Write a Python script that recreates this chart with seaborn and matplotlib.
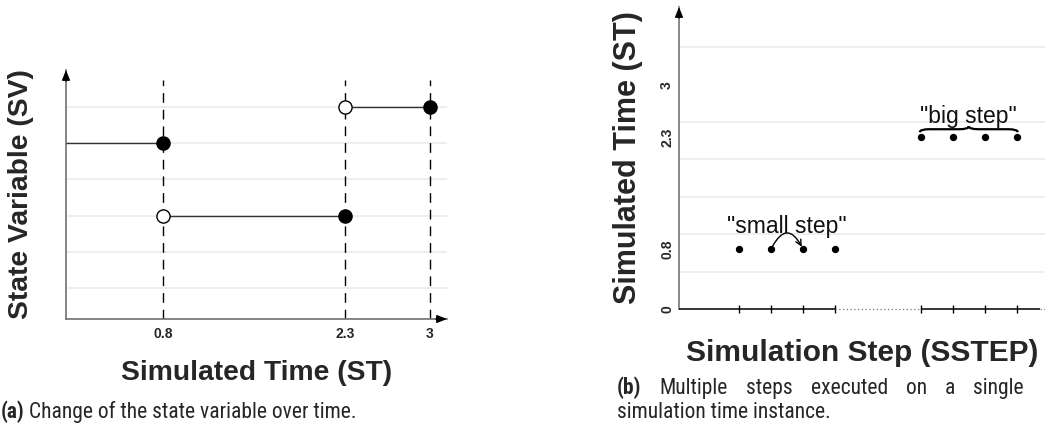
import numpy as np
import pandas as pd
import matplotlib
matplotlib.use("Agg")
import matplotlib.pyplot as plt
from matplotlib.path import Path
from matplotlib.patches import PathPatch
from matplotlib.ticker import FixedLocator
from matplotlib import font_manager as fm
import seaborn as sns

# ---------------- data: panel (a) ----------------
event_times = [0.8, 2.3, 3.0]
event_labels = ["0.8", "2.3", "3"]
seg_start = [0.0, 0.8, 2.3]
seg_end = [0.8, 2.3, 3.0]
seg_value = [5, 3, 6]
closed_t = [0.8, 2.3, 3.0]
closed_v = [5, 3, 6]
open_t = [0.8, 2.3]
open_v = [3, 6]
sv_grid = [1, 2, 3, 4, 5, 6]

# ---------------- data: panel (b) ----------------
small_steps = [1, 2, 3, 4]
small_time = [0.8, 0.8, 0.8, 0.8]
big_steps = [6.68, 7.68, 8.68, 9.68]
big_time = [2.3, 2.3, 2.3, 2.3]
st_ticks = [0, 0.8, 2.3, 3]
st_labels = ["0", "0.8", "2.3", "3"]
st_grid = [0.5, 1.0, 1.5, 2.0, 2.5, 3.0, 3.5]

sns.set_theme(style="whitegrid")
plt.rcParams["font.family"] = ["Liberation Sans", "DejaVu Sans"]

W, H = 1045, 438
fig = plt.figure(figsize=(W / 100, H / 100), dpi=100)


def px_axes(l, t, r, b):
    return [l / W, 1 - b / H, (r - l) / W, (b - t) / H]


ax1 = fig.add_axes(px_axes(66, 70, 447, 319))
ax2 = fig.add_axes(px_axes(679, 7, 1100, 309))

GRID = "#ebebeb"
ARROW = dict(arrowstyle="-|>,head_length=0.5,head_width=0.2", color="black",
             lw=1, mutation_scale=12, shrinkA=0, shrinkB=0)

# ================= panel (a) =================
ax1.set_xlim(0, 3.14)
ax1.set_ylim(0.144, 7.02)
ax1.set_facecolor("white")
for s in ["top", "right"]:
    ax1.spines[s].set_visible(False)
for s in ["left", "bottom"]:
    ax1.spines[s].set_color("#707070")
    ax1.spines[s].set_linewidth(1.2)
ax1.set_yticks(sv_grid)
ax1.set_yticklabels([])
ax1.set_xticks(event_times)
ax1.set_xticklabels(event_labels, fontsize=10, fontweight="bold")
ax1.tick_params(axis="both", length=0)
ax1.tick_params(axis="x", pad=5.5)
ax1.grid(axis="x", visible=False)
ax1.grid(axis="y", color=GRID, lw=1.2)

ax1.vlines(event_times, 0.144, 6.75, colors="black", lw=1,
           linestyles=(0, (7, 5)), zorder=2)
ax1.hlines(seg_value, seg_start, seg_end, colors="#333333", lw=1, zorder=3)
sns.scatterplot(x=closed_t, y=closed_v, ax=ax1, color="black", s=90,
                edgecolor="black", linewidth=1, zorder=5, clip_on=False)
sns.scatterplot(x=open_t, y=open_v, ax=ax1, color="white", s=90,
                edgecolor="black", linewidth=1, zorder=5, clip_on=False)

ax1.annotate("", xy=(0, 1), xycoords="axes fraction", xytext=(0, -8),
             textcoords="offset points", arrowprops=ARROW)
ax1.annotate("", xy=(1, 0), xycoords="axes fraction", xytext=(-8, 0),
             textcoords="offset points", arrowprops=ARROW)

ax1.set_ylabel("State Variable (SV)", fontsize=20.3, fontweight="bold",
               va="center")
ax1.yaxis.set_label_coords(-0.118, 0.5)
ax1.set_xlabel("Simulated Time (ST)", fontsize=20.3, fontweight="bold",
               va="center")
ax1.xaxis.set_label_coords(0.5, -0.215)

# ================= panel (b) =================
ax2.set_xlim(-0.875, 12.28)
ax2.set_ylim(0.066, 4.04)
ax2.set_facecolor("white")
for s in ["top", "right", "bottom"]:
    ax2.spines[s].set_visible(False)
ax2.spines["left"].set_color("#808080")
ax2.spines["left"].set_linewidth(1.3)

ax2.set_yticks(st_ticks)
ax2.set_yticklabels(st_labels, fontsize=10, fontweight="bold", rotation=90,
                    va="center")
ax2.yaxis.set_minor_locator(FixedLocator(st_grid))
ax2.tick_params(axis="y", which="both", length=0, pad=3.5)
ax2.grid(axis="y", which="major", visible=False)
ax2.grid(axis="y", which="minor", color=GRID, lw=1.2)
ax2.grid(axis="x", visible=False)

ax2.set_xticks(small_steps + big_steps)
ax2.set_xticklabels([])
ax2.tick_params(axis="x", which="major", length=6, width=1, color="black",
                direction="inout", bottom=True)

x_lo = ax2.get_xlim()[0]
x_hi = ax2.get_xlim()[1]
y0 = ax2.get_ylim()[0]
axis_end = big_steps[-1] + 0.72
ax2.plot([x_lo, small_steps[-1]], [y0, y0], color="black", lw=1.1,
         clip_on=False, zorder=3, solid_capstyle="butt")
ax2.plot([small_steps[-1], big_steps[0]], [y0, y0], color="#777777", lw=0.9,
         ls=(0, (1, 2)), clip_on=False, zorder=3)
ax2.plot([big_steps[0], axis_end], [y0, y0], color="black", lw=1.1,
         clip_on=False, zorder=3, solid_capstyle="butt")
ax2.plot([axis_end, x_hi], [y0, y0], color="#777777", lw=0.9,
         ls=(0, (1, 2)), clip_on=False, zorder=3)

sns.scatterplot(x=small_steps, y=small_time, ax=ax2, color="black", s=28,
                linewidth=0, zorder=5)
sns.scatterplot(x=big_steps, y=big_time, ax=ax2, color="black", s=28,
                linewidth=0, zorder=5)

ax2.annotate("", xy=(0, 1), xycoords="axes fraction", xytext=(0, -8),
             textcoords="offset points", arrowprops=ARROW)

# small-step arc arrow
ax2.annotate("", xy=(small_steps[2], small_time[2]),
             xytext=(small_steps[1], small_time[1]),
             arrowprops=dict(arrowstyle="->,head_length=0.4,head_width=0.2",
                             color="black", lw=1, mutation_scale=10,
                             connectionstyle="arc3,rad=-1.0",
                             shrinkA=2, shrinkB=2))
ax2.text(np.mean(small_steps), small_time[0] + 0.30, '"small step"',
         ha="center", va="center", fontsize=16.5, color="#111111")

# curly brace over big steps
bx0 = big_steps[0] - 0.03
bx1 = big_steps[-1] + 0.03
bxm = (bx0 + bx1) / 2
by = big_time[0]
t_, h_, p_ = by + 0.065, by + 0.105, by + 0.145
r_ = 0.3
verts = [(bx0, t_), (bx0, h_), (bx0 + r_, h_),
         (bxm - r_, h_),
         (bxm, h_), (bxm, p_),
         (bxm, h_), (bxm + r_, h_),
         (bx1 - r_, h_),
         (bx1, h_), (bx1, t_)]
codes = [Path.MOVETO, Path.CURVE3, Path.CURVE3,
         Path.LINETO,
         Path.CURVE3, Path.CURVE3,
         Path.CURVE3, Path.CURVE3,
         Path.LINETO,
         Path.CURVE3, Path.CURVE3]
ax2.add_patch(PathPatch(Path(verts, codes), fill=False, lw=1.6,
                        edgecolor="black", zorder=4))
ax2.text(np.mean(big_steps), big_time[0] + 0.27, '"big step"',
         ha="center", va="center", fontsize=16.5, color="#111111")

ax2.set_ylabel("Simulated Time (ST)", fontsize=22, fontweight="bold",
               va="center")
ax2.yaxis.set_label_coords(-0.121, 0.5)
ax2.set_xlabel("Simulation Step (SSTEP)", fontsize=21.5, fontweight="bold",
               va="center")
ax2.xaxis.set_label_coords(0.435, -0.145)

# ================= captions =================
available = {f.name for f in fm.fontManager.ttflist}
cap_pref = ["Roboto Condensed", "Liberation Sans Narrow", "Open Sans Condensed",
            "DejaVu Sans Condensed"]
cap_found = [f for f in cap_pref if f in available]
if cap_found:
    CAP_FAMILY = [cap_found[0], "Liberation Sans"]
    CAP_SIZE = 15.5
else:
    CAP_FAMILY = ["Liberation Sans"]
    CAP_SIZE = 14.6


def caption(x_px, base_px, bold_part, rest):
    t = fig.text(x_px / W, 1 - base_px / H, bold_part, fontsize=CAP_SIZE,
                 fontweight="bold", family=CAP_FAMILY, va="baseline",
                 ha="left")
    fig.canvas.draw()
    bb = t.get_window_extent()
    fig.text((bb.x1 + 4) / W, 1 - base_px / H, rest, fontsize=CAP_SIZE,
             family=CAP_FAMILY, va="baseline", ha="left")


def justified_caption(x_px, x_end_px, base_px, bold_part, rest):
    """First line of a justified (LaTeX-like) caption: stretch word gaps."""
    words = [(bold_part, "bold")] + [(w, "normal") for w in rest.split()]
    texts = []
    for w, wt in words:
        texts.append(fig.text(0, 1 - base_px / H, w, fontsize=CAP_SIZE,
                              fontweight=wt, family=CAP_FAMILY,
                              va="baseline", ha="left"))
    fig.canvas.draw()
    r = fig.canvas.get_renderer()
    widths = [t.get_window_extent(r).width for t in texts]
    gap = (x_end_px - x_px - sum(widths)) / (len(texts) - 1)
    x = x_px
    for t, w in zip(texts, widths):
        t.set_x(x / W)
        x += w + gap


caption(1, 418, "(a)", "Change of the state variable over time.")
justified_caption(617, 1024, 394, "(b)", "Multiple steps executed on a single")
fig.text(617 / W, 1 - 418 / H, "simulation time instance.", fontsize=CAP_SIZE,
         family=CAP_FAMILY, va="baseline", ha="left")

fig.savefig("out.png", dpi=100)
